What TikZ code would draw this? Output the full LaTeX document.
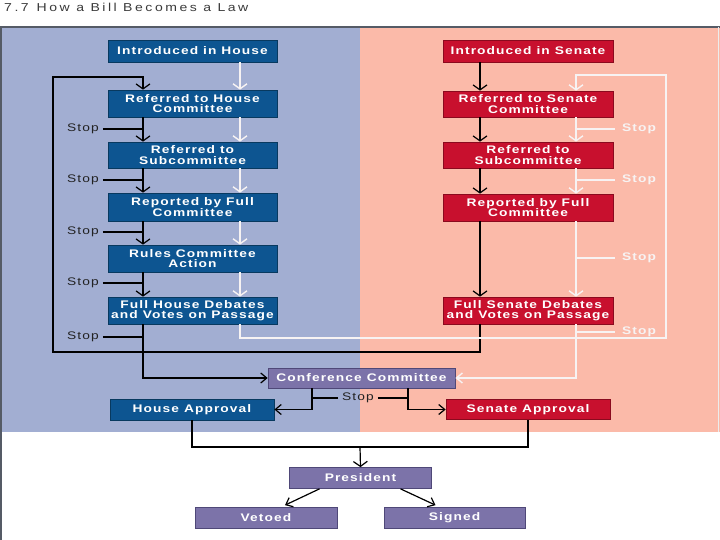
\documentclass[tikz,border=0pt]{standalone}
\usepackage{fontspec}
\setmainfont{Liberation Sans}
\newfontfamily\bxfont{Liberation Sans}[FakeStretch=1.25,LetterSpace=10]
\newfontfamily\ttlfont{Liberation Sans}[FakeStretch=1.22,LetterSpace=22]
\usetikzlibrary{arrows.meta}
\definecolor{bluebg}{HTML}{A2AED2}
\definecolor{pinkbg}{HTML}{FBBAA9}
\definecolor{housebox}{HTML}{0D5591}
\definecolor{houseedge}{HTML}{08395F}
\definecolor{senbox}{HTML}{C8102E}
\definecolor{senedge}{HTML}{8A0A1E}
\definecolor{purbox}{HTML}{7C73A9}
\definecolor{puredge}{HTML}{4F4878}
\definecolor{wline}{HTML}{F7F3F3}
\definecolor{framecol}{HTML}{555B66}
\definecolor{titlegray}{HTML}{3A3A3A}
\definecolor{stopgray}{HTML}{222222}
\begin{document}
\begin{tikzpicture}[x=1bp,y=-1bp,
  box/.style={draw, line width=0.7bp, inner sep=0pt, align=center, text=white,
    font=\bxfont\bfseries\fontsize{11bp}{10.5bp}\selectfont},
  hbox/.style={box, fill=housebox, draw=houseedge, minimum width=169bp},
  sbox/.style={box, fill=senbox, draw=senedge, minimum width=170bp},
  pbox/.style={box, fill=purbox, draw=puredge},
  blk/.style={draw=black, line width=1.2bp},
  wht/.style={draw=wline, line width=1.4bp},
  varr/.style={-{Straight Barb[length=5bp,width=14bp]}},
  harr/.style={-{Straight Barb[length=6bp,width=10bp]}},
  stopL/.style={inner xsep=4bp, inner ysep=0pt, text=stopgray,
    font=\bxfont\fontsize{11bp}{11bp}\selectfont},
  stopR/.style={inner xsep=7bp, inner ysep=0pt, text=wline,
    font=\bxfont\bfseries\fontsize{11bp}{11bp}\selectfont}
]
\useasboundingbox (0,0) rectangle (720,540);
% panels
\fill[bluebg] (0,27) rectangle (360,432);
\fill[pinkbg] (360,27) rectangle (720,432);
\draw[framecol, line width=1.5bp] (1,540) -- (1,27) -- (720,27);
\draw[white!85!gray, line width=0.8bp] (718,27) -- (718,432);
% title
\node[anchor=west, inner sep=0pt, text=titlegray,
  font=\ttlfont\fontsize{11.5bp}{12bp}\selectfont] (title) at (4,7.5)
  {7.7\hspace{8bp}How a Bill Becomes a Law};

% trunk x positions
\coordinate (hB) at (143,0);
\coordinate (hW) at (240,0);
\coordinate (sB) at (480,0);
\coordinate (sW) at (576,0);
\coordinate (lb) at (53,352);
\coordinate (lt) at (53,77);
\coordinate (wBR) at (666,338);
\coordinate (wTR) at (666,75);
\coordinate (cx1) at (312,0);
\coordinate (cx2) at (408,0);
\coordinate (jn) at (360,447);

% House boxes
\node[hbox, minimum height=22bp] (hIntro) at (192.5,51) {Introduced in House};
\node[hbox, minimum height=27bp] (hRef) at (192.5,103.5) {Referred to House\\Committee};
\node[hbox, minimum height=26bp] (hSub) at (192.5,155) {Referred to\\Subcommittee};
\node[hbox, minimum height=28bp] (hRep) at (192.5,207) {Reported by Full\\Committee};
\node[hbox, minimum height=27bp] (hRules) at (192.5,258.5) {Rules Committee\\Action};
\node[hbox, minimum height=27bp] (hFloor) at (192.5,310.5) {Full House Debates\\and Votes on Passage};

% Senate boxes
\node[sbox, minimum height=22bp] (sIntro) at (528,51) {Introduced in Senate};
\node[sbox, minimum height=26bp] (sRef) at (528,104) {Referred to Senate\\Committee};
\node[sbox, minimum height=26bp] (sSub) at (528,155) {Referred to\\Subcommittee};
\node[sbox, minimum height=27bp] (sRep) at (528,207.5) {Reported by Full\\Committee};
\node[sbox, minimum height=27bp] (sFloor) at (528,310.5) {Full Senate Debates\\and Votes on Passage};

% Joint boxes
\node[pbox, minimum width=187bp, minimum height=20bp] (conf) at (361.5,378) {Conference Committee};
\node[hbox, minimum width=164bp, minimum height=21bp] (hApp) at (192,409.5) {House Approval};
\node[sbox, minimum width=164bp, minimum height=20bp] (sApp) at (528,409.5) {Senate Approval};
\node[pbox, minimum width=142bp, minimum height=21bp] (pres) at (360.5,478) {President};
\node[pbox, minimum width=142bp, minimum height=21bp] (veto) at (266,518) {Vetoed};
\node[pbox, minimum width=141bp, minimum height=21bp] (signed) at (454.5,518) {Signed};

% House black trunk
\draw[blk, varr] (sFloor.south -| sB) |- (lb) -- (lt) -| (hRef.north -| hB);
\draw[blk, varr] (hRef.south -| hB) -- (hSub.north -| hB);
\draw[blk, varr] (hSub.south -| hB) -- (hRep.north -| hB);
\draw[blk, varr] (hRep.south -| hB) -- (hRules.north -| hB);
\draw[blk, varr] (hRules.south -| hB) -- (hFloor.north -| hB);
\draw[blk, harr] (hFloor.south -| hB) |- (conf.west);

% House white trunk
\draw[wht, varr] (hIntro.south -| hW) -- (hRef.north -| hW);
\draw[wht, varr] (hRef.south -| hW) -- (hSub.north -| hW);
\draw[wht, varr] (hSub.south -| hW) -- (hRep.north -| hW);
\draw[wht, varr] (hRep.south -| hW) -- (hRules.north -| hW);
\draw[wht, varr] (hRules.south -| hW) -- (hFloor.north -| hW);
\draw[wht, varr] (hFloor.south -| hW) |- (wBR) -- (wTR) -| (sRef.north -| sW);

% Senate black trunk
\draw[blk, varr] (sIntro.south -| sB) -- (sRef.north -| sB);
\draw[blk, varr] (sRef.south -| sB) -- (sSub.north -| sB);
\draw[blk, varr] (sSub.south -| sB) -- (sRep.north -| sB);
\draw[blk, varr] (sRep.south -| sB) -- (sFloor.north -| sB);

% Senate white trunk
\draw[wht, varr] (sRef.south -| sW) -- (sSub.north -| sW);
\draw[wht, varr] (sSub.south -| sW) -- (sRep.north -| sW);
\draw[wht, varr] (sRep.south -| sW) -- (sFloor.north -| sW);
\draw[wht, harr] (sFloor.south -| sW) |- (conf.east);

% House stops
\foreach \i/\yy in {1/129,2/180,3/232,4/283,5/337}{
  \node[stopL] (hs\i) at (83,\yy) {Stop};
  \draw[blk] (hs\i.east) -- (hs\i.east -| hB);
}
% Senate stops
\foreach \i/\yy in {1/129,2/180,3/258,4/332}{
  \node[stopR] (ss\i) at (639,\yy) {Stop};
  \draw[wht] (ss\i.west -| sW) -- (ss\i.west);
}

% Conference outcomes
\node[stopL] (cst) at (358,398) {Stop};
\draw[blk, harr] (conf.south -| cx1) |- (hApp.east);
\draw[blk, harr] (conf.south -| cx2) |- (sApp.west);
\draw[blk] (cst.west) -- (cst.west -| cx1);
\draw[blk] (cst.east) -- (cst.east -| cx2);

% To the President
\draw[blk] (hApp.south) |- (jn) -| (sApp.south);
\draw[blk, varr] (jn) -- (pres.north);
\draw[blk, harr] ([xshift=-41bp]pres.south) -- ([xshift=19bp,yshift=2bp]veto.north);
\draw[blk, harr] ([xshift=40bp]pres.south) -- ([xshift=-19bp,yshift=2bp]signed.north);
\end{tikzpicture}
\end{document}
